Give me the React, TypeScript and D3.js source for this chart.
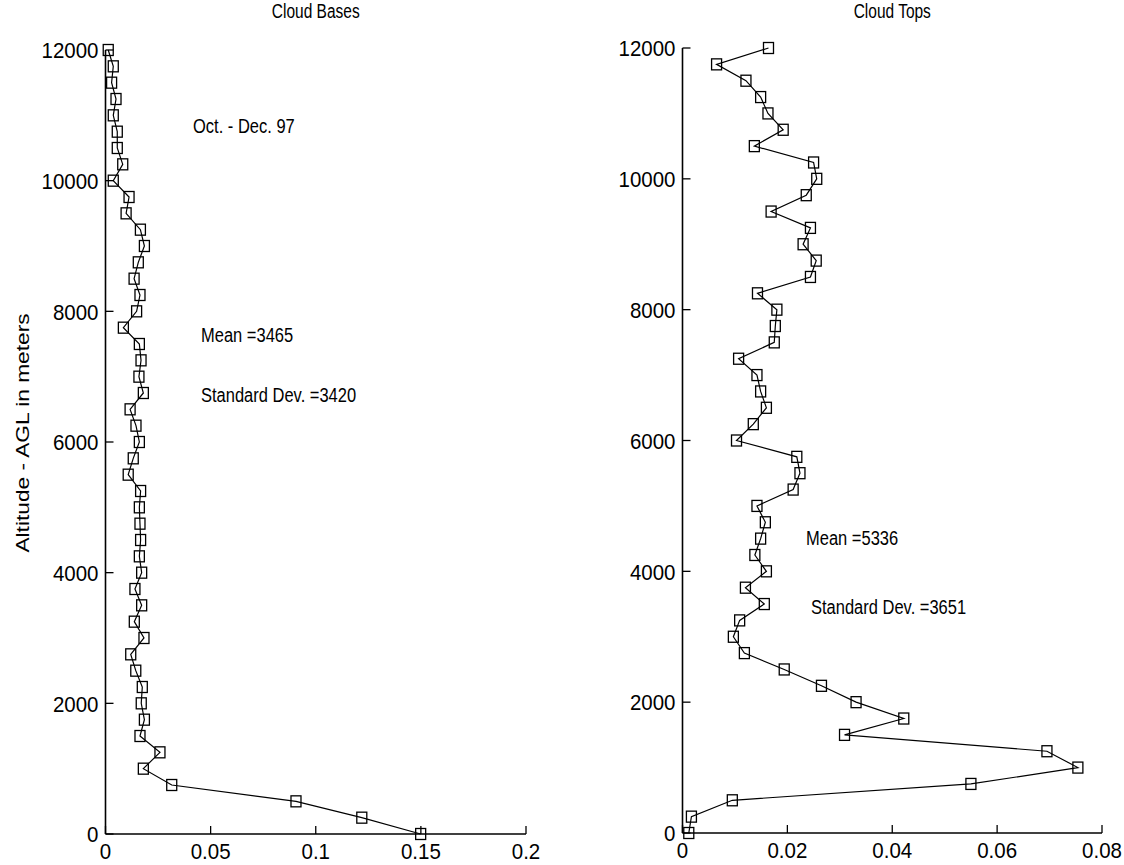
import React from "react";
import * as d3 from "d3";

// ---------- data ----------
const altitudes = [
  0, 250, 500, 750, 1000, 1250, 1500, 1750, 2000, 2250, 2500, 2750, 3000, 3250, 3500, 3750,
  4000, 4250, 4500, 4750, 5000, 5250, 5500, 5750, 6000, 6250, 6500, 6750, 7000, 7250, 7500, 7750,
  8000, 8250, 8500, 8750, 9000, 9250, 9500, 9750, 10000, 10250, 10500, 10750, 11000, 11250, 11500, 11750,
  12000,
];

const cloudBases = [
  0.1499, 0.1219, 0.0906, 0.0315, 0.018, 0.0259, 0.0164, 0.0185, 0.017, 0.0175, 0.0144, 0.012, 0.0183, 0.0137, 0.0172, 0.014,
  0.0172, 0.0161, 0.0167, 0.0164, 0.0161, 0.0167, 0.0108, 0.0132, 0.0161, 0.0145, 0.0117, 0.018, 0.0159, 0.0169, 0.0161, 0.0085,
  0.0148, 0.0164, 0.0136, 0.0156, 0.0185, 0.0166, 0.0098, 0.0112, 0.0037, 0.0082, 0.0056, 0.0056, 0.0037, 0.005, 0.0029, 0.0037,
  0.0013,
];

const cloudTops = [
  0.0012, 0.0017, 0.0095, 0.055, 0.0754, 0.0695, 0.0309, 0.0422, 0.0331, 0.0265, 0.0194, 0.0118, 0.0097, 0.0109, 0.0156, 0.012,
  0.016, 0.0138, 0.0149, 0.0158, 0.0142, 0.0211, 0.0224, 0.0218, 0.0103, 0.0135, 0.016, 0.0149, 0.0142, 0.0107, 0.0175, 0.0177,
  0.018, 0.0143, 0.0244, 0.0255, 0.023, 0.0244, 0.0169, 0.0236, 0.0256, 0.025, 0.0137, 0.0192, 0.0163, 0.0149, 0.0121, 0.0065,
  0.0164,
];

const yTicks = [0, 2000, 4000, 6000, 8000, 10000, 12000];
const basesXTicks = [0, 0.05, 0.1, 0.15, 0.2];
const topsXTicks = [0, 0.02, 0.04, 0.06, 0.08];

const basesNotes = ["Oct. - Dec. 97", "Mean =3465", "Standard Dev. =3420"];
const topsNotes = ["Mean =5336", "Standard Dev. =3651"];

// ---------- style ----------
const FONT = "'Liberation Sans', Arial, Helvetica, sans-serif";

function T({ x, y, size, sy = 1.2, anchor = "start", rotate = false, dy = "0", children }: any) {
  return (
    <text
      transform={`translate(${x},${y}) scale(1,${sy})${rotate ? " rotate(-90)" : ""}`}
      fontSize={size}
      fontFamily={FONT}
      textAnchor={anchor}
      dy={dy}
      fill="#000"
    >
      {children}
    </text>
  );
}

function Panel({ values, xDomain, xTicks, left, right, top, bottom, title, notes }: any) {
  const x = d3.scaleLinear().domain(xDomain).range([left, right]);
  const y = d3.scaleLinear().domain([0, 12000]).range([bottom, top]);
  const fmtX = d3.format("~g");
  const fmtY = d3.format("d");
  const line = d3
    .line<number>()
    .x((d) => x(d))
    .y((_, i) => y(altitudes[i]));
  const pts = values.map((v: number, i: number) => [x(v), y(altitudes[i])]);
  const sw = 5,
    sh = 5.5;
  return (
    <g>
      <T x={(left + right) / 2} y={18} size={15.5} sy={1.25} anchor="middle">
        {title}
      </T>
      {/* axes */}
      <line x1={left} x2={left} y1={bottom} y2={top} stroke="#000" strokeWidth={1.6} />
      <line x1={left} x2={right} y1={bottom} y2={bottom} stroke="#000" strokeWidth={1.6} />
      {yTicks.map((t) => (
        <g key={"y" + t}>
          <line x1={left} x2={left + 8} y1={y(t)} y2={y(t)} stroke="#000" strokeWidth={1.3} />
          <T x={left - 7} y={y(t)} size={20.5} sy={1.12} anchor="end" dy="0.36em">
            {fmtY(t)}
          </T>
        </g>
      ))}
      {xTicks.map((t: number) => (
        <g key={"x" + t}>
          <line x1={x(t)} x2={x(t)} y1={bottom} y2={bottom - 8} stroke="#000" strokeWidth={1.3} />
          <T x={x(t)} y={bottom + 25} size={20.5} sy={1.08} anchor="middle">
            {fmtX(t)}
          </T>
        </g>
      ))}
      <path d={line(values) || ""} fill="none" stroke="#000" strokeWidth={1.2} />
      {pts.map(([px, py]: number[], i: number) => (
        <rect
          key={i}
          x={px - sw}
          y={py - sh}
          width={sw * 2}
          height={sh * 2}
          fill="none"
          stroke="#000"
          strokeWidth={1.3}
        />
      ))}
      {notes.map((n: any, i: number) => (
        <T key={i} x={n.x} y={n.y} size={16.5} sy={1.2}>
          {n.text}
        </T>
      ))}
    </g>
  );
}

export default function App() {
  return (
    <div style={{ position: "absolute", left: 0, top: 0 }}>
      <svg width={1124} height={865} style={{ display: "block", background: "#fff" }}>
        <rect width={1124} height={865} fill="#fff" />
        <T x={29} y={433} size={17.5} sy={1.3} anchor="middle" rotate>
          Altitude - AGL in meters
        </T>
        <Panel
          values={cloudBases}
          xDomain={[0, 0.2]}
          xTicks={basesXTicks}
          left={105.5}
          right={526}
          top={50}
          bottom={834}
          title="Cloud Bases"
          notes={[
            { text: basesNotes[0], x: 193, y: 133 },
            { text: basesNotes[1], x: 201, y: 342 },
            { text: basesNotes[2], x: 201, y: 402 },
          ]}
        />
        <Panel
          values={cloudTops}
          xDomain={[0, 0.08]}
          xTicks={topsXTicks}
          left={682.5}
          right={1102}
          top={48}
          bottom={833}
          title="Cloud Tops"
          notes={[
            { text: topsNotes[0], x: 806, y: 545 },
            { text: topsNotes[1], x: 811, y: 614 },
          ]}
        />
      </svg>
    </div>
  );
}
